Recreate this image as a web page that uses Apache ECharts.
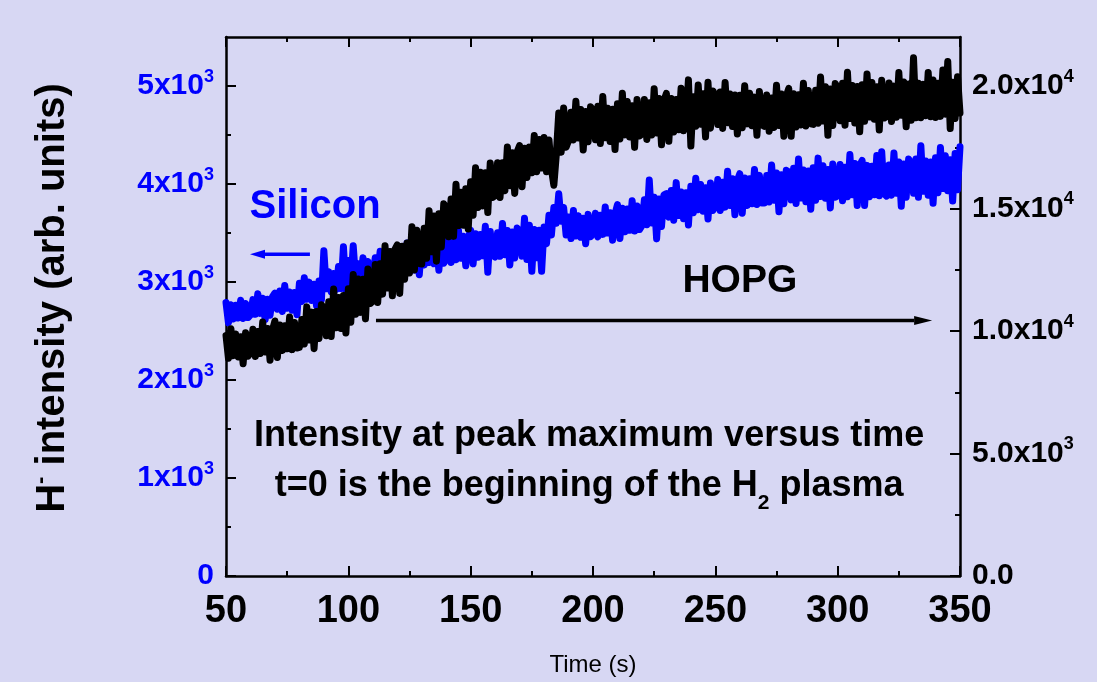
<!DOCTYPE html>
<html>
<head>
<meta charset="utf-8">
<title>H- intensity versus time</title>
<script src="https://cdn.jsdelivr.net/npm/echarts@6/dist/echarts.min.js"></script>
<style>
  html, body { margin: 0; padding: 0; background: #d7d7f3; }
  #chart { width: 1097px; height: 682px; }
</style>
</head>
<body>
<div id="chart"></div>
<script>
// Sampling grid of both traces (seconds)
const timeStart = 50;
const timeStep = 1;

// H- intensity on silicon, left axis (arb. units), one reading per second from t = 50 s
const siliconCounts = [
  2790, 2583, 2768, 2623, 2763, 2632, 2813, 2628, 2781, 2637,
  2665, 2820, 2670, 2880, 2680, 2835, 2615, 2825, 2660, 2850,
  2887, 2722, 2909, 2700, 2964, 2733, 2898, 2711, 2893, 2667,
  2988, 2801, 3043, 2823, 2999, 2812, 2977, 2757, 3010, 2817,
  3320, 2930, 3104, 2900, 3087, 2922, 3159, 2933, 3360, 2920,
  3220, 2967, 3370, 3016, 3187, 3027, 3248, 3022, 3209, 3033,
  3076, 3247, 3082, 3313, 3093, 3264, 3021, 3253, 3071, 3280,
  3314, 3134, 3338, 3110, 3398, 3146, 3326, 3122, 3320, 3074,
  3394, 3173, 3459, 3199, 3407, 3186, 3381, 3121, 3420, 3192,
  3235, 3459, 3200, 3438, 3228, 3529, 3242, 3466, 3165, 3452,
  3530, 3185, 3493, 3252, 3485, 3267, 3568, 3100, 3515, 3275,
  3254, 3502, 3262, 3598, 3278, 3526, 3174, 3510, 3246, 3550,
  3519, 3264, 3650, 3230, 3580, 3110, 3536, 3247, 3528, 3110,
  3560, 3390, 3680, 3480, 3760, 3600, 3900, 3620, 3760, 3480,
  3664, 3443, 3729, 3469, 3677, 3456, 3651, 3391, 3690, 3462,
  3492, 3701, 3460, 3681, 3486, 3766, 3499, 3707, 3427, 3694,
  3790, 3445, 3753, 3512, 3745, 3527, 3828, 3520, 3775, 3535,
  3575, 3839, 3584, 4040, 3601, 3865, 3440, 3848, 3567, 3890,
  3902, 3662, 3934, 3630, 4014, 3678, 3918, 3646, 3910, 3582,
  3978, 3706, 4058, 3738, 3994, 3722, 3962, 3642, 4010, 3730,
  3772, 4045, 3730, 4019, 3764, 4130, 3781, 4053, 3687, 4036,
  4105, 3702, 4061, 3781, 4053, 3799, 4149, 3790, 4088, 3807,
  3807, 4086, 3816, 4194, 3834, 4113, 3717, 4095, 3798, 4140,
  4123, 3838, 4161, 3800, 4256, 3857, 4142, 3819, 4133, 3743,
  4166, 3834, 4264, 3873, 4186, 3854, 4147, 3756, 4205, 3864,
  3880, 4200, 3830, 4170, 3870, 4300, 3890, 4210, 3780, 4190,
  4240, 3780, 4190, 3870, 4180, 3890, 4290, 3880, 4330, 3900,
  3876, 4194, 3886, 4317, 3906, 4224, 3773, 4204, 3865, 4255,
  4214, 3906, 4255, 3865, 4390, 3926, 4234, 3885, 4224, 3803,
  4268, 3911, 4373, 3953, 4289, 3932, 4247, 3827, 4310, 3942,
  4380
];

// H- intensity on HOPG, right axis (arb. units), same time grid
const hopgCounts = [
  9820, 8885, 10095, 8995, 9875, 8940, 9765, 8665, 9930, 8967,
  9110, 10070, 8960, 9980, 9080, 10370, 9140, 10100, 8810, 10040,
  10410, 8915, 10248, 9207, 10215, 9272, 10573, 9240, 10345, 9305,
  9330, 10465, 9465, 10985, 9635, 10770, 9280, 10800, 9695, 11075,
  10917, 9809, 11197, 9777, 11711, 10135, 11367, 10103, 11452, 9915,
  11720, 10355, 12305, 10685, 12125, 10760, 12115, 10495, 12530, 11122,
  11221, 12711, 11165, 12743, 11505, 13479, 11757, 13247, 11437, 13323,
  13518, 11533, 13463, 12108, 13588, 12368, 14253, 12493, 14108, 12753,
  12738, 14194, 12966, 14906, 13238, 14694, 12850, 14790, 13430, 15194,
  15031, 13848, 15385, 13862, 15994, 14301, 15668, 14315, 15810, 14159,
  16092, 14722, 16667, 15042, 16477, 15107, 16457, 14832, 16862, 15449,
  15521, 16863, 15445, 16867, 15729, 17511, 15933, 17275, 15617, 17319,
  17570, 15885, 17463, 16262, 17505, 16457, 17978, 16500, 17815, 16655,
  17900, 16500, 17800, 16600, 15950, 17200, 18900, 17300, 19100, 17500,
  17762, 18925, 17800, 19375, 17875, 19038, 17387, 18963, 17725, 19150,
  19010, 17810, 19170, 17650, 19570, 17890, 19090, 17730, 19050, 17410,
  19280, 17835, 19705, 18005, 19365, 17920, 19195, 17495, 19450, 17962,
  18040, 19448, 17820, 19316, 17996, 19888, 18084, 19492, 17600, 19404,
  19700, 17745, 19488, 18127, 19445, 18212, 19913, 18170, 18600, 20250,
  17550, 19560, 18360, 20040, 18440, 19680, 17920, 20150, 18280, 19800,
  19596, 18426, 19752, 18270, 20142, 18504, 19674, 18348, 19635, 18036,
  19624, 18298, 20014, 18454, 19702, 18376, 19546, 17986, 19780, 18415,
  18350, 19630, 18150, 19510, 18310, 20030, 18390, 19670, 17950, 19590,
  19900, 17945, 19688, 18327, 19645, 18412, 20113, 18370, 19815, 18455,
  18435, 19830, 18480, 20370, 18570, 19965, 17985, 19875, 18390, 20100,
  19930, 18580, 20110, 18400, 20560, 18670, 20020, 18490, 19975, 18130,
  20054, 18558, 20494, 18734, 20142, 18646, 19966, 18206, 20230, 18690,
  18762, 20123, 18550, 19995, 18720, 20548, 18805, 20165, 18337, 20080,
  18600, 21150, 18700, 20110, 18702, 20066, 18790, 20550, 18746, 20242,
  18715, 20110, 18760, 20650, 18850, 21000, 18265, 20155, 18670, 20380,
  18900
];

// Axis ranges and tick positions
const siliconTicks = [0, 1000, 2000, 3000, 4000, 5000];
const siliconMinorTicks = [500, 1500, 2500, 3500, 4500];
const hopgTicks = [0, 5000, 10000, 15000, 20000];
const hopgMinorTicks = [2500, 7500, 12500, 17500];

const FONT = 'Arial, "Liberation Sans", Helvetica, sans-serif';
const BLUE = '#0000ff';
const INK = '#000000';

const toPairs = values => values.map((v, i) => [timeStart + i * timeStep, v]);

const frameLine = { show: true, onZero: false, lineStyle: { color: INK, width: 2.5 } };
const majorTick = { show: true, inside: true, length: 10, lineStyle: { color: INK, width: 2 } };
const minorTickStyle = { show: true, inside: true, length: 5, lineStyle: { color: INK, width: 2 } };

function siliconLabel(v) {
  if (v === 0) return '{b|0}';
  return '{b|' + (v / 1000) + 'x10}{s|3}';
}
function hopgLabel(v) {
  if (v === 0) return '{b|0.0}';
  if (v < 10000) return '{b|' + (v / 1000).toFixed(1) + 'x10}{s|3}';
  return '{b|' + (v / 10000).toFixed(1) + 'x10}{s|4}';
}
const labelRich = color => ({
  b: { fontSize: 30, fontWeight: 'bold', color: color, fontFamily: FONT, lineHeight: 36 },
  s: { fontSize: 18, fontWeight: 'bold', color: color, fontFamily: FONT, verticalAlign: 'top', lineHeight: 20 }
});

const chart = echarts.init(document.getElementById('chart'), null, { renderer: 'canvas' });

chart.setOption({
  animation: false,
  backgroundColor: '#d7d7f3',
  textStyle: { fontFamily: FONT },
  grid: { left: 226, right: 137, top: 37, bottom: 101, containLabel: false },
  xAxis: [
    {
      type: 'value', position: 'bottom', min: 50, max: 350, interval: 50,
      axisLine: frameLine, axisTick: majorTick,
      minorTick: { show: true, splitNumber: 2, length: 5, lineStyle: { color: INK, width: 2 } },
      splitLine: { show: false }, minorSplitLine: { show: false },
      axisLabel: { fontSize: 38, fontWeight: 'bold', color: INK, margin: 17, fontFamily: FONT },
      name: 'Time (s)', nameLocation: 'middle', nameGap: 77,
      nameTextStyle: { fontSize: 24, color: INK, fontFamily: FONT }
    },
    {
      type: 'value', position: 'top', min: 50, max: 350, interval: 50,
      axisLine: frameLine, axisTick: majorTick,
      minorTick: { show: true, splitNumber: 2, length: 5, lineStyle: { color: INK, width: 2 } },
      splitLine: { show: false }, axisLabel: { show: false }
    }
  ],
  yAxis: [
    {
      type: 'value', position: 'left', min: 0, max: 5500, interval: 1000,
      axisLine: frameLine,
      axisTick: Object.assign({ customValues: siliconTicks }, majorTick),
      splitLine: { show: false },
      axisLabel: { customValues: siliconTicks, margin: 12, formatter: siliconLabel, rich: labelRich(BLUE) }
    },
    {
      type: 'value', position: 'right', min: 0, max: 22000, interval: 5000,
      axisLine: frameLine,
      axisTick: Object.assign({ customValues: hopgTicks }, majorTick),
      splitLine: { show: false },
      axisLabel: { customValues: hopgTicks, margin: 12, formatter: hopgLabel, rich: labelRich(INK) }
    },
    {
      type: 'value', position: 'left', min: 0, max: 5500,
      axisLine: { show: false },
      axisTick: Object.assign({ customValues: siliconMinorTicks }, minorTickStyle),
      axisLabel: { show: false }, splitLine: { show: false }
    },
    {
      type: 'value', position: 'right', min: 0, max: 22000,
      axisLine: { show: false },
      axisTick: Object.assign({ customValues: hopgMinorTicks }, minorTickStyle),
      axisLabel: { show: false }, splitLine: { show: false }
    }
  ],
  series: [
    {
      name: 'Silicon', type: 'line', xAxisIndex: 0, yAxisIndex: 0,
      data: toPairs(siliconCounts), showSymbol: false, symbol: 'none',
      sampling: null, silent: true, z: 2,
      lineStyle: { color: BLUE, width: 7, cap: 'round', join: 'round' }
    },
    {
      name: 'HOPG', type: 'line', xAxisIndex: 0, yAxisIndex: 1,
      data: toPairs(hopgCounts), showSymbol: false, symbol: 'none',
      sampling: null, silent: true, z: 3,
      lineStyle: { color: INK, width: 7, cap: 'round', join: 'round' }
    }
  ]
});

// Annotations, anchored in (time, silicon-axis) data coordinates
const px = (t, v) => chart.convertToPixel({ xAxisIndex: 0, yAxisIndex: 0 }, [t, v]);

function arrow(from, to, color, width, headLen, headHalf) {
  const dir = Math.sign(to[0] - from[0]);
  const baseX = to[0] - dir * headLen;
  return [
    { type: 'line', silent: true, z: 10,
      shape: { x1: from[0], y1: from[1], x2: baseX, y2: to[1] },
      style: { stroke: color, lineWidth: width } },
    { type: 'polygon', silent: true, z: 10,
      shape: { points: [[to[0], to[1]], [baseX, to[1] - headHalf], [baseX, to[1] + headHalf]] },
      style: { fill: color } }
  ];
}

const siliconTag = px(86.4, 3770);
const siliconArrowFrom = px(84.3, 3283), siliconArrowTo = px(59.8, 3283);
const hopgTag = px(260, 3010);
const hopgArrowFrom = px(111.3, 2606), hopgArrowTo = px(338.6, 2606);
const noteLine1 = px(198.4, 1424);
const noteLine2 = px(198.4, 919);

chart.setOption({
  graphic: [
    // vertical axis title
    {
      type: 'text', x: 53, y: 298, rotation: Math.PI / 2, silent: true,
      style: {
        text: '{m|H}{p|-}{m| intensity (arb. units)}',
        align: 'center', verticalAlign: 'middle',
        rich: {
          m: { fontSize: 40, fontWeight: 'bold', fontFamily: FONT, fill: INK, lineHeight: 46 },
          p: { fontSize: 22, fontWeight: 'bold', fontFamily: FONT, fill: INK, verticalAlign: 'top', lineHeight: 24 }
        }
      }
    },
    {
      type: 'text', x: siliconTag[0], y: siliconTag[1], silent: true, z: 10,
      style: { text: 'Silicon', fontSize: 40, fontWeight: 'bold', fontFamily: FONT, fill: BLUE,
               align: 'center', verticalAlign: 'middle' }
    },
    ...arrow(siliconArrowFrom, siliconArrowTo, BLUE, 3.5, 15, 4.5),
    {
      type: 'text', x: hopgTag[0], y: hopgTag[1], silent: true, z: 10,
      style: { text: 'HOPG', fontSize: 39, fontWeight: 'bold', fontFamily: FONT, fill: INK,
               align: 'center', verticalAlign: 'middle' }
    },
    ...arrow(hopgArrowFrom, hopgArrowTo, INK, 3.5, 18, 4.5),
    {
      type: 'text', x: noteLine1[0], y: noteLine1[1], silent: true, z: 10,
      style: { text: 'Intensity at peak maximum versus time', fontSize: 36, fontWeight: 'bold',
               fontFamily: FONT, fill: INK, align: 'center', verticalAlign: 'middle' }
    },
    {
      type: 'text', x: noteLine2[0], y: noteLine2[1], silent: true, z: 10,
      style: {
        text: '{m|t=0 is the beginning of the H}{sub|2}{m| plasma}',
        align: 'center', verticalAlign: 'middle',
        rich: {
          m: { fontSize: 36, fontWeight: 'bold', fontFamily: FONT, fill: INK, lineHeight: 56 },
          sub: { fontSize: 21, fontWeight: 'bold', fontFamily: FONT, fill: INK, verticalAlign: 'bottom', lineHeight: 24 }
        }
      }
    }
  ]
});
</script>
</body>
</html>
